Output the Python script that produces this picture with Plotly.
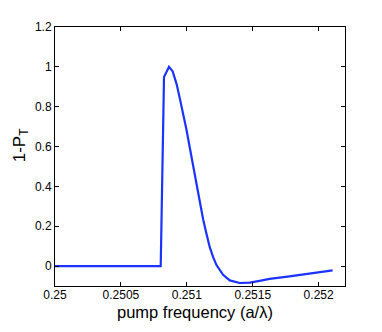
import plotly.graph_objects as go

# 数据
freq = [0.25, 0.250802, 0.250827, 0.250865, 0.250893, 0.250923, 0.250948,
        0.250973, 0.250998, 0.251023, 0.251048, 0.251074, 0.251099,
        0.251124, 0.251150, 0.251174, 0.251199, 0.251225, 0.251275,
        0.251326, 0.251401, 0.251477, 0.251552, 0.251628, 0.251779,
        0.251930, 0.252106]
one_minus_pt = [0.0, 0.0, 0.949, 1.0, 0.977, 0.912, 0.838,
                0.765, 0.683, 0.593, 0.50, 0.41, 0.324,
                0.234, 0.160, 0.095, 0.046, 0.005, -0.044,
                -0.072, -0.085, -0.083, -0.074, -0.064, -0.052,
                -0.038, -0.022]

x_ticks = [0.25, 0.2505, 0.251, 0.2515, 0.252]
x_labels = ["0.25", "0.2505", "0.251", "0.2515", "0.252"]
y_ticks = [0, 0.2, 0.4, 0.6, 0.8, 1.0, 1.2]
y_labels = ["0", "0.2", "0.4", "0.6", "0.8", "1", "1.2"]

FONT = "Liberation Sans, Arial"

fig = go.Figure()
fig.add_trace(go.Scatter(
    x=freq,
    y=one_minus_pt,
    mode="lines",
    line=dict(color="#1a33ff", width=2.2),
    showlegend=False,
))

axis_style = dict(
    showline=True,
    linecolor="black",
    linewidth=1,
    mirror="ticks",
    ticks="inside",
    ticklen=4,
    tickcolor="black",
    showgrid=False,
    zeroline=False,
    tickfont=dict(family=FONT, size=12, color="black"),
)

fig.update_xaxes(range=[0.25, 0.2522], tickvals=x_ticks, ticktext=x_labels,
                 ticklabelstandoff=-2, **axis_style)
fig.update_yaxes(range=[-0.1, 1.2], tickvals=y_ticks, ticktext=y_labels, **axis_style)

# 轴标题用注释来精确定位
fig.add_annotation(
    text="pump frequency (a/λ)",
    xref="paper", yref="paper", x=0.4816, y=-0.102,
    xanchor="center", yanchor="middle", showarrow=False,
    font=dict(family=FONT, size=16.5, color="black"),
)
fig.add_annotation(
    text="1-P<sub>T</sub>",
    xref="paper", yref="paper", x=-0.1188, y=0.5415,
    xanchor="center", yanchor="middle", showarrow=False, textangle=-90,
    font=dict(family=FONT, size=17, color="black"),
)

# 页面 body 有 8px 边距，边距里已扣除
fig.update_layout(
    width=382,
    height=332,
    margin=dict(l=46.5, r=45, t=13, b=54),
    paper_bgcolor="white",
    plot_bgcolor="white",
)

fig.write_html("out.html")
